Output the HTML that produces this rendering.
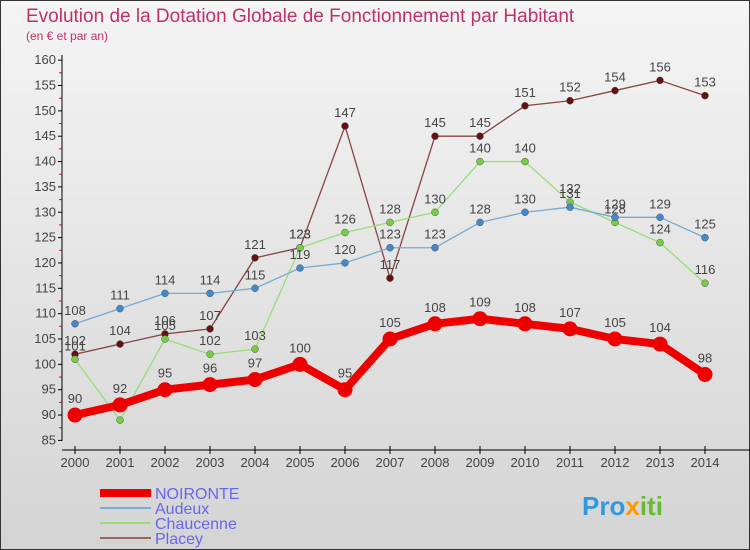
<!DOCTYPE html>
<html><head><meta charset="utf-8"><style>
body{margin:0;width:750px;height:550px;overflow:hidden}
svg{display:block;font-family:"Liberation Sans","DejaVu Sans",sans-serif}
</style></head><body>
<svg id="c" width="750" height="550">
<defs><linearGradient id="bg" x1="0" y1="0" x2="0" y2="1"><stop offset="0" stop-color="#f4f4f4"/><stop offset="1" stop-color="#d4d4d4"/></linearGradient></defs>
<rect x="0.5" y="0.5" width="749" height="549" fill="url(#bg)" stroke="#333"/>
<text x="26" y="22" font-size="19" fill="#c0306a">Evolution de la Dotation Globale de Fonctionnement par Habitant</text>
<text x="26" y="40" font-size="12" fill="#c0306a">(en € et par an)</text>
<g id="axes"></g><g id="series"></g>
<g>
<line x1="100" y1="493" x2="151" y2="493" stroke="#e00" stroke-width="8"/>
<text x="155" y="499" font-size="16" fill="#6666ee">NOIRONTE</text>
<line x1="100" y1="508" x2="151" y2="508" stroke="#7aaed0" stroke-width="2"/>
<text x="155" y="514" font-size="16" fill="#6666ee">Audeux</text>
<line x1="100" y1="523" x2="151" y2="523" stroke="#99dd77" stroke-width="2"/>
<text x="155" y="529" font-size="16" fill="#6666ee">Chaucenne</text>
<line x1="100" y1="538" x2="151" y2="538" stroke="#996666" stroke-width="2"/>
<text x="155" y="544" font-size="16" fill="#6666ee">Placey</text>
</g>
<text x="582" y="515" font-size="26" font-weight="bold" fill="#3399dd">Pro<tspan fill="#ff9900">x</tspan><tspan fill="#66bb33">iti</tspan></text>
</svg>
<script>
const years=[2000,2001,2002,2003,2004,2005,2006,2007,2008,2009,2010,2011,2012,2013,2014];
const noironte=[90,92,95,96,97,100,95,105,108,109,108,107,105,104,98];
const audeux=[108,111,114,114,115,119,120,123,123,128,130,131,129,129,125];
const chaucenne=[101,89,105,102,103,123,126,128,130,140,140,132,128,124,116];
const placey=[102,104,106,107,121,123,147,117,145,145,151,152,154,156,153];
const yTicks=[85,90,95,100,105,110,115,120,125,130,135,140,145,150,155,160];
const NS="http://www.w3.org/2000/svg";
const x=i=>75+i*45;
const y=v=>440.4-(v-85)*5.07;
function mk(t,a,p){const e=document.createElementNS(NS,t);for(const k in a)e.setAttribute(k,a[k]);p.appendChild(e);return e;}
const ax=document.getElementById('axes');
let l=mk('line',{x1:62,y1:55,x2:62,y2:441,stroke:'#000'},ax);


l=mk('line',{x1:62,y1:450,x2:750,y2:450,stroke:'#000'},ax);


yTicks.forEach((v,i)=>{mk('line',{x1:58,y1:y(v),x2:62,y2:y(v),stroke:'#000'},ax);
 if(i<yTicks.length-1)mk('line',{x1:59,y1:y(v+2.5),x2:62,y2:y(v+2.5),stroke:'#e00'},ax);
 const t=mk('text',{x:56,y:y(v)+4,'font-size':13,fill:'#444','text-anchor':'end'},ax);t.textContent=v;
 
 });
years.forEach((yr,i)=>{mk('line',{x1:x(i),y1:446,x2:x(i),y2:454,stroke:'#000'},ax);
 const t=mk('text',{x:x(i),y:467,'font-size':13,fill:'#444','text-anchor':'middle'},ax);t.textContent=yr;
 
 });
const sg=document.getElementById('series');
function draw(name,vals,col,dot,w,r,fs){
 const g=mk('g',{},sg);
 
 
 const p=mk('polyline',{points:vals.map((v,i)=>x(i)+','+y(v)).join(' '),fill:'none',stroke:col,'stroke-width':w,'stroke-linejoin':'round'},g);
 
 
 vals.forEach((v,i)=>{const c=mk('circle',{cx:x(i),cy:y(v),r:r,fill:dot,stroke:r<5?'#555':'none','stroke-width':0.5},g);
  
  
  const t=mk('text',{x:x(i),y:y(v)-9-(r>5?3:0),'font-size':fs,fill:'#444','text-anchor':'middle'},g);t.textContent=v;
  
  });
}
draw('placey',placey,'#884444','#661111',1.3,3.5,13);
draw('chaucenne',chaucenne,'#99dd77','#77cc44',1.3,3.5,13);
draw('audeux',audeux,'#77aad0','#4488cc',1.3,3.5,13);
draw('noironte',noironte,'#ee0000','#ee0000',8,7.5,13);
</script>
</body></html>
